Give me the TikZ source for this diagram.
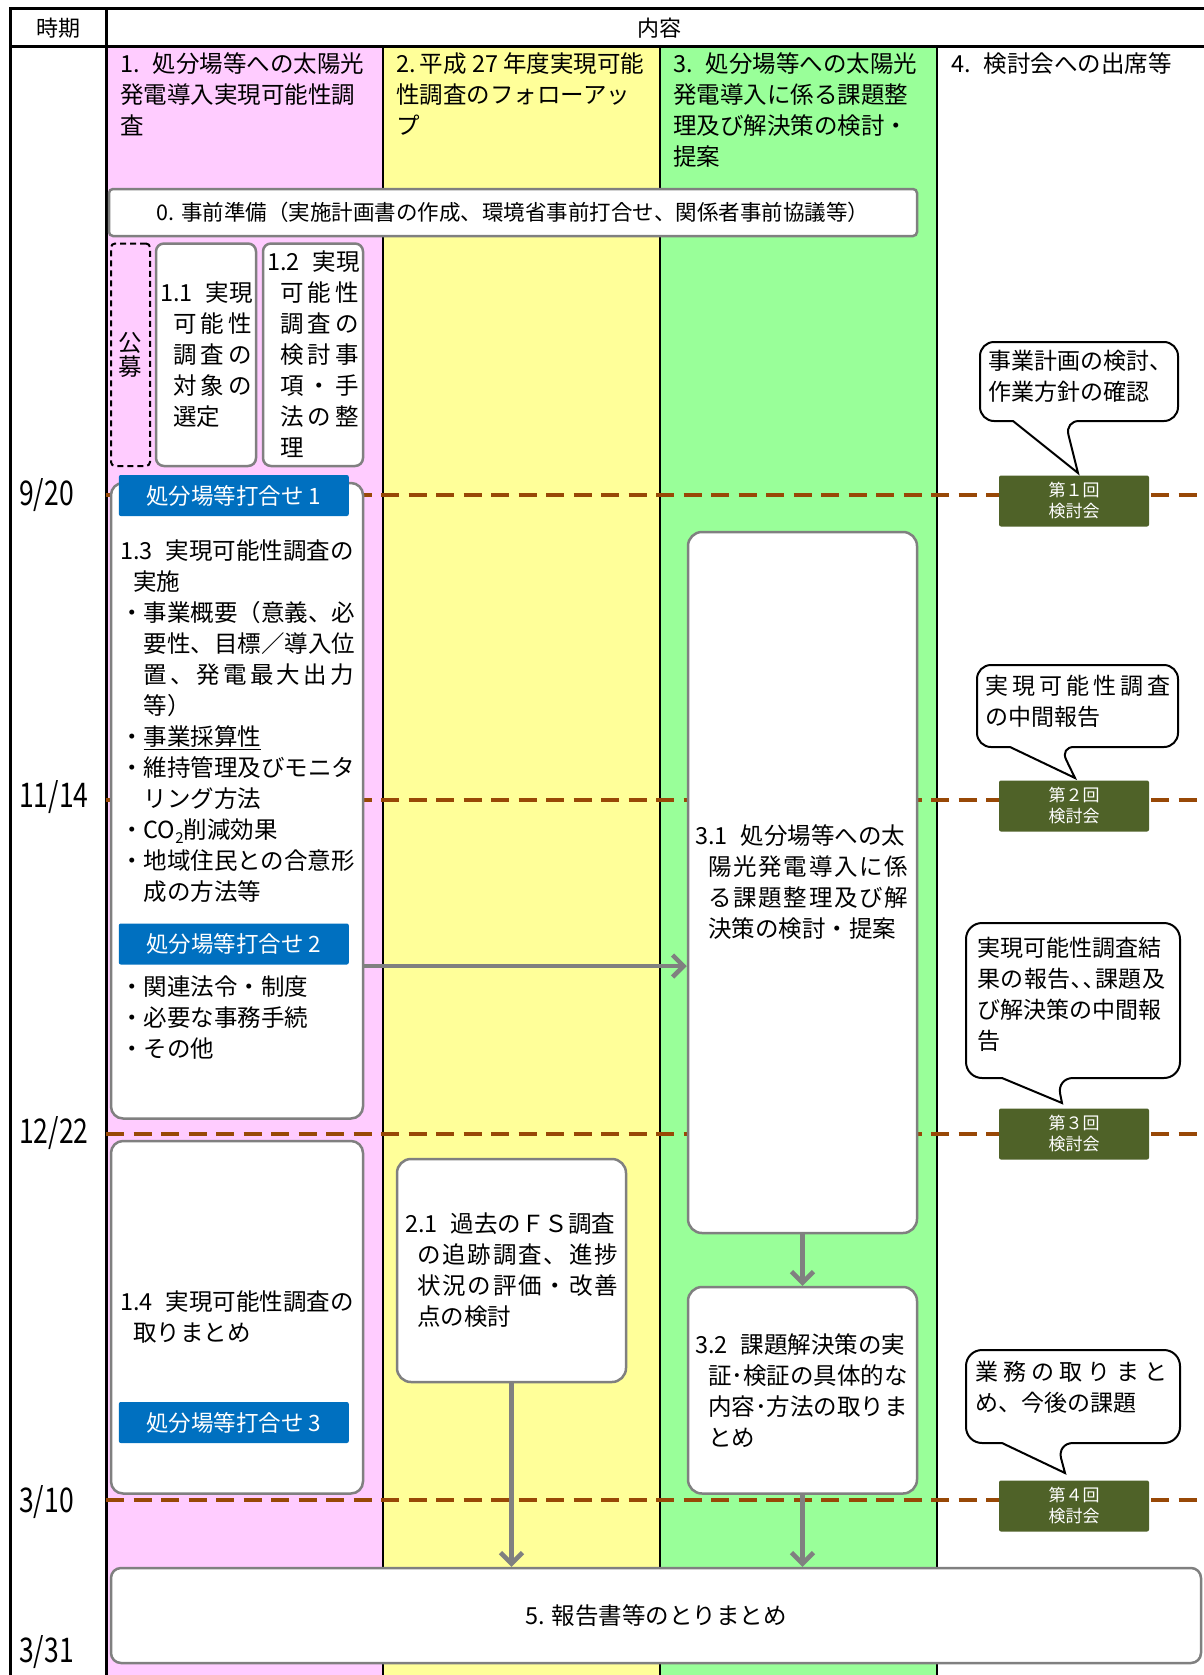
\documentclass[tikz,border=0pt]{standalone}
\usepackage{fontspec}
\usepackage{graphicx}
\setmainfont{Noto Sans CJK JP}
\usetikzlibrary{arrows.meta}
\definecolor{cpink}{HTML}{FFCCFF}
\definecolor{cyel}{HTML}{FFFF99}
\definecolor{cgrn}{HTML}{99FF99}
\definecolor{cblue}{HTML}{0070C0}
\definecolor{colive}{HTML}{4F6228}
\definecolor{cbrown}{HTML}{984806}
\definecolor{cgray}{HTML}{808080}
\def\sprfirst#1{#1\spraux}
\def\spraux#1{\ifx\relax#1\else\hfil#1\expandafter\spraux\fi}
\newcommand\spr[2]{\makebox[#1][s]{\sprfirst#2\relax}}
\newcommand\ns{\hspace{13pt}}
\newcommand\ind{\hspace*{13pt}}
\newcommand\indd{\hspace*{23.5pt}}
\begin{document}
\begin{tikzpicture}[x=1pt,y=-1pt,
  box/.style={draw=cgray,line width=2.5pt,fill=white,rounded corners=12pt,inner sep=0pt},
  dbox/.style={draw=black,line width=2pt,dash pattern=on 6pt off 4pt,rounded corners=4pt,inner sep=0pt},
  txt/.style={inner sep=0pt,anchor=north west,align=left,font=\fontsize{23.5}{31}\selectfont},
  ctxt/.style={inner sep=0pt,anchor=north west,align=left,font=\fontsize{23}{31}\selectfont},
  hd/.style={inner sep=0pt,font=\fontsize{22}{26}\selectfont},
  dt/.style={inner sep=0pt,anchor=west,font=\fontsize{34}{34}\selectfont},
  tag/.style={fill=cblue,text=white,rounded corners=2pt,minimum width=230pt,minimum height=41pt,inner sep=0pt,font=\fontsize{22.5}{26}\selectfont},
  gbox/.style={fill=colive,text=white,rounded corners=2pt,minimum width=150pt,minimum height=51pt,inner sep=0pt,align=center,font=\fontsize{17}{21}\selectfont},
  dline/.style={draw=cbrown,line width=4pt,dash pattern=on 18pt off 9.5pt},
  cout/.style={draw=black,fill=white,line width=2pt},
  arr/.style={draw=cgray,line width=4.5pt,-{Straight Barb[length=11pt,width=22pt]}}
]
\useasboundingbox (0,0) rectangle (1204,1675);
\fill[white] (0,0) rectangle (1204,1675);
% column backgrounds
\fill[cpink] (106,46.5) rectangle (382.5,1675);
\fill[cyel] (382.5,46.5) rectangle (660,1675);
\fill[cgrn] (660,46.5) rectangle (937,1675);
% table lines
\draw[line width=3pt] (10.5,1675) -- (10.5,9) -- (1204,9);
\draw[line width=3pt] (10.5,46.5) -- (1204,46.5);
\draw[line width=3pt] (106,9) -- (106,1675);
\draw[line width=2pt] (382.5,46.5) -- (382.5,1675);
\draw[line width=2pt] (660,46.5) -- (660,1675);
\draw[line width=2pt] (937,46.5) -- (937,1675);
% header
\node[hd] (hT) at (58,28) {時期};
\node[hd] (hN) at (659,28) {内容};
\node[txt] (h1) at (120,52.5) {1.\ns 処分場等への太陽光\\発電導入実現可能性調\\査};
\node[txt] (h2) at (396,52.5) {2.\hspace{4pt}平成 27 年度実現可能\\性調査のフォローアッ\\プ};
\node[txt] (h3) at (673,52.5) {3.\ns 処分場等への太陽光\\発電導入に係る課題整\\理及び解決策の検討・\\提案};
\node[txt] (h4) at (951,52.5) {4.\ns 検討会への出席等};
% dashed time lines
\foreach \yy in {495,800,1133.5,1500} \draw[dline] (106,\yy) -- (1204,\yy);
% time labels
\node[dt] (d1) at (19,495) {\scalebox{0.78}[1]{9/20}};
\node[dt] (d2) at (19,797) {\scalebox{0.78}[1]{11/14}};
\node[dt] (d3) at (19,1133) {\scalebox{0.78}[1]{12/22}};
\node[dt] (d4) at (19,1502) {\scalebox{0.78}[1]{3/10}};
\node[dt] (d5) at (19,1652) {\scalebox{0.78}[1]{3/31}};
% box 0
\node[box,rounded corners=4pt,minimum width=808pt,minimum height=47pt,font=\fontsize{21.5}{26}\selectfont] (b0) at (513,212.5) {0. 事前準備（実施計画書の作成、環境省事前打合せ、関係者事前協議等）};
% koubo, 1.1, 1.2
\node[dbox,minimum width=39pt,minimum height=222.5pt,align=center,font=\fontsize{23.5}{24}\selectfont] (bk) at (130.5,354.75) {公\\募};
\node[box,rounded corners=8pt,minimum width=100pt,minimum height=222.5pt] (b11) at (206,354.75) {};
\node[box,rounded corners=8pt,minimum width=100pt,minimum height=222.5pt] (b12) at (313,354.75) {};
\node[txt] (x11) at (160,281.5) {1.1\ns 実現\\\ind\spr{79pt}{可能性}\\\ind\spr{79pt}{調査の}\\\ind\spr{79pt}{対象の}\\\ind 選定};
\node[txt] (x12) at (267,250.5) {1.2\ns 実現\\\ind\spr{79pt}{可能性}\\\ind\spr{79pt}{調査の}\\\ind\spr{79pt}{検討事}\\\ind\spr{79pt}{項・手}\\\ind\spr{79pt}{法の整}\\\ind 理};
% box 1.3
\node[box,minimum width=252pt,minimum height=635.5pt] (b13) at (237,800.75) {};
\node[tag] (t1) at (233.8,495.5) {処分場等打合せ 1};
\node[txt] (x13) at (120,539.5) {1.3\ns 実現可能性調査の\\
\ind 実施\\
・事業概要（意義、必\\
\indd 要性、目標／導入位\\
\indd\spr{210pt}{置、発電最大出力}\\
\indd 等）\\
・\underline{事業採算性}\\
・維持管理及びモニタ\\
\indd リング方法\\
・CO\raisebox{-5pt}{\fontsize{15}{15}\selectfont 2}削減効果\\
・地域住民との合意形\\
\indd 成の方法等};
\node[tag] (t2) at (233.8,944) {処分場等打合せ 2};
\node[txt] (x13b) at (120,975.5) {・関連法令・制度\\・必要な事務手続\\・その他};
% box 1.4
\node[box,minimum width=252pt,minimum height=352.5pt] (b14) at (237,1317.25) {};
\node[txt] (x14) at (120,1291) {1.4\ns 実現可能性調査の\\\ind 取りまとめ};
\node[tag] (t3) at (233.8,1422.5) {処分場等打合せ 3};
% box 2.1
\node[box,rounded corners=14pt,minimum width=229pt,minimum height=223pt] (b21) at (511.5,1270.5) {};
\node[txt] (x21) at (405,1212.5) {2.1\ns 過去のＦＳ調査\\\hspace*{12pt}\spr{201pt}{の追跡調査、進捗}\\\hspace*{12pt}\spr{201pt}{状況の評価・改善}\\\hspace*{12pt}点の検討};
% box 3.1, 3.2
\node[box,rounded corners=14pt,minimum width=229pt,minimum height=701pt] (b31) at (802.5,882.5) {};
\node[txt] (x31) at (695,824) {3.1\ns 処分場等への太\\\ind\spr{200pt}{陽光発電導入に係}\\\ind\spr{200pt}{る課題整理及び解}\\\ind 決策の検討・提案};
\node[box,rounded corners=14pt,minimum width=229pt,minimum height=206.5pt] (b32) at (802.5,1390.25) {};
\node[txt] (x32) at (695,1333.5) {3.2\ns 課題解決策の実\\\ind 証･検証の具体的な\\\ind 内容･方法の取りま\\\ind とめ};
% box 5
\node[box,rounded corners=10pt,minimum width=1090pt,minimum height=95pt,font=\fontsize{23.5}{28}\selectfont] (b5) at (656,1615.5) {5. 報告書等のとりまとめ};
% green meeting boxes
\node[gbox] (g1) at (1074,501) {第１回\\検討会};
\node[gbox] (g2) at (1074,806) {第２回\\検討会};
\node[gbox] (g3) at (1074,1134) {第３回\\検討会};
\node[gbox] (g4) at (1074,1506) {第４回\\検討会};
% callouts
\draw[cout] (980,380) [rounded corners=14pt] -- (980,342) -- (1178,342) -- (1178,421) -- (1065,421) [sharp corners] -- (1078,473) -- (1013,421) [rounded corners=14pt] -- (980,421) -- cycle;
\node[ctxt] (c1) at (988,349.7) {事業計画の検討、\\作業方針の確認};
\draw[cout] (977,705) [rounded corners=14pt] -- (977,665) -- (1178,665) -- (1178,747) -- (1060,747) [sharp corners] -- (1075,778) -- (1010,747) [rounded corners=14pt] -- (977,747) -- cycle;
\node[ctxt] (c2) at (985,674.7) {\spr{185pt}{実現可能性調査}\\の中間報告};
\draw[cout] (966,1000) [rounded corners=16pt] -- (966,923) -- (1180,923) -- (1180,1078) -- (1057,1078) [sharp corners] -- (1062,1103) -- (1002,1078) [rounded corners=16pt] -- (966,1078) -- cycle;
\node[ctxt] (c3) at (977,936.7) {実現可能性調査結\\\spr{188pt}{果の報告､､課題及}\\び解決策の中間報\\告};
\draw[cout] (966,1400) [rounded corners=16pt] -- (966,1350) -- (1180,1350) -- (1180,1443) -- (1057,1443) [sharp corners] -- (1065,1473) -- (1002,1443) [rounded corners=16pt] -- (966,1443) -- cycle;
\node[ctxt] (c4) at (975,1360.7) {\spr{192pt}{業務の取りまと}\\め、今後の課題};
% arrows
\coordinate (a13) at (363,966);
\draw[arr] (a13) -- (a13 -| b31.west);
\draw[arr] (b21.south) -- (b21.south |- b5.north);
\draw[arr] (b31.south) -- (b32.north);
\draw[arr] (b32.south) -- (b32.south |- b5.north);
\end{tikzpicture}
\end{document}
